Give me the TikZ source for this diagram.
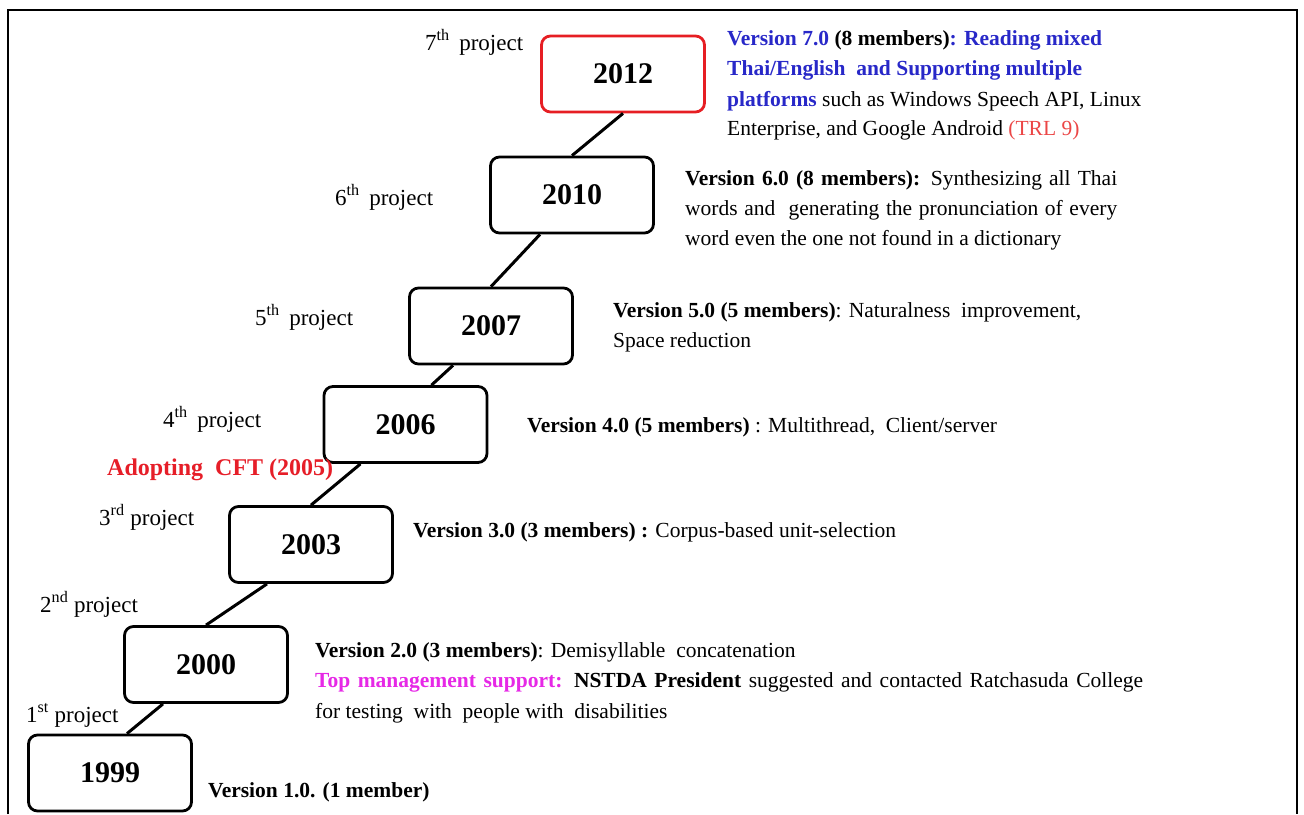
\documentclass[tikz,border=0pt]{standalone}
\usepackage{fontspec}
\setmainfont{Liberation Serif}
\definecolor{vblue}{RGB}{40,40,200}
\definecolor{cftred}{RGB}{230,30,40}
\definecolor{trlred}{RGB}{235,70,70}
\definecolor{mgnt}{RGB}{230,40,230}
\definecolor{boxred}{RGB}{230,30,35}
\begin{document}
\begin{tikzpicture}[x=1pt,y=-1pt,
  yearbox/.style={draw, rounded corners=9pt, line width=2.8pt,
    minimum width=163pt, minimum height=76pt, fill=white, inner sep=0pt,
    font=\fontsize{30}{36}\selectfont\bfseries},
  link/.style={line width=3pt},
  plabel/.style={anchor=base west, inner sep=0pt, font=\fontsize{23}{28}\selectfont},
  desc/.style={anchor=base west, inner sep=0pt, font=\fontsize{21.5}{30}\selectfont},
  milestone/.style={anchor=base west, inner sep=0pt, text=cftred,
    font=\fontsize{24}{28}\selectfont\bfseries},
  frame/.style={line width=2pt}]
\useasboundingbox (0,0) rectangle (1304,814);

% outer frame (open at the bottom)
\coordinate (fbl) at (8,814);
\coordinate (ftl) at (8,10);
\coordinate (ftr) at (1297,10);
\coordinate (fbr) at (1297,814);
\draw[frame] (fbl) -- (ftl) -- (ftr) -- (fbr);

% year boxes
\node[yearbox, draw=boxred] (b2012) at (623,74) {2012};
\node[yearbox] (b2010) at (572,195) {2010};
\node[yearbox] (b2007) at (491,326) {2007};
\node[yearbox] (b2006) at (405.5,424.5) {2006};
\node[yearbox] (b2003) at (311,544.5) {2003};
\node[yearbox] (b2000) at (206,664.5) {2000};
\node[yearbox] (b1999) at (110,773) {1999};

% links between consecutive projects
\draw[link] (b2012.south) -- (b2010.north);
\draw[link] ([xshift=-32pt]b2010.south) -- (b2007.north);
\draw[link] ([xshift=-38pt]b2007.south) -- ([xshift=26pt]b2006.north);
\draw[link] ([xshift=-45pt]b2006.south) -- (b2003.north);
\draw[link] ([xshift=-44pt]b2003.south) -- (b2000.north);
\draw[link] ([xshift=-43pt]b2000.south) -- ([xshift=17pt]b1999.north);

% project labels
\node[plabel] (p7) at (425,50) {7\textsuperscript{th}\, project};
\node[plabel] (p6) at (335,205) {6\textsuperscript{th}\, project};
\node[plabel] (p5) at (255,325) {5\textsuperscript{th}\, project};
\node[plabel] (p4) at (163,427) {4\textsuperscript{th}\, project};
\node[plabel] (p3) at (99,525) {3\textsuperscript{rd} project};
\node[plabel] (p2) at (40,612) {2\textsuperscript{nd} project};
\node[plabel] (p1) at (26,722) {1\textsuperscript{st} project};

\node[milestone] (cft) at (107,475) {Adopting\ \ CFT (2005)};

% version descriptions
\node[desc] (v7a) at (727,45) {{\color{vblue}\bfseries Version 7.0} {\bfseries (8 members)}{\color{vblue}\bfseries : Reading mixed}};
\node[desc, text=vblue] (v7b) at (727,75) {\bfseries Thai/English\ \ and Supporting multiple};
\node[desc] (v7c) at (727,106) {{\color{vblue}\bfseries platforms} such as Windows Speech API, Linux};
\node[desc] (v7d) at (727,135) {Enterprise, and Google Android {\color{trlred}(TRL 9)}};

\node[desc] (v6a) at (685,185) {\makebox[432pt][s]{{\bfseries Version 6.0 (8 members):} Synthesizing all Thai}};
\node[desc] (v6b) at (685,215) {\makebox[432pt][s]{words and\ \ generating the pronunciation of every}};
\node[desc] (v6c) at (685,245) {word even the one not found in a dictionary};

\node[desc] (v5a) at (613,317) {{\bfseries Version 5.0 (5 members)}: Naturalness\ \ improvement,};
\node[desc] (v5b) at (613,347) {Space reduction};

\node[desc] (v4) at (527,432) {{\bfseries Version 4.0 (5 members)} : Multithread,\ \ Client/server};

\node[desc] (v3) at (413,537) {{\bfseries Version 3.0 (3 members) :} Corpus-based unit-selection};

\node[desc] (v2a) at (315,657) {{\bfseries Version 2.0 (3 members)}: Demisyllable\ \ concatenation};
\node[desc] (v2b) at (315,687) {\makebox[828pt][s]{{\color{mgnt}\bfseries Top management support:} {\bfseries NSTDA President} suggested and contacted Ratchasuda College}};
\node[desc] (v2c) at (315,718) {for testing\ \ with\ \ people with\ \ disabilities};

\node[desc] (v1) at (208,797) {\bfseries Version 1.0. (1 member)};
\end{tikzpicture}
\end{document}
